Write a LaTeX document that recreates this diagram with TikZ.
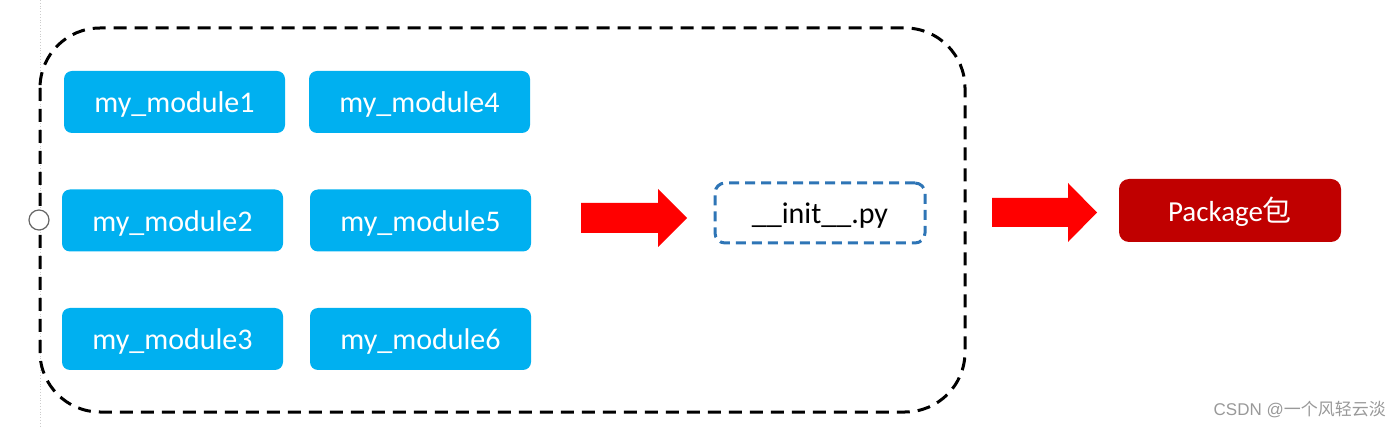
\documentclass[tikz,border=0pt]{standalone}
\usepackage{fontspec}
\setmainfont{Carlito}
\newfontfamily\cjk{Noto Sans CJK SC}
\newfontfamily\wm{Liberation Sans}
\definecolor{modblue}{HTML}{00B0F0}
\definecolor{initblue}{HTML}{2E75B6}
\definecolor{pkgred}{HTML}{C00000}
\definecolor{arrred}{HTML}{FF0000}
\begin{document}
\begin{tikzpicture}[x=1pt,y=-1pt,
  txt/.style={text height=28pt, text depth=6pt},
  modbox/.style={txt, fill=modblue, rounded corners=8pt, text=white, minimum width=221pt, minimum height=62pt, inner sep=0pt, font=\fontsize{30}{36}\selectfont},
  initbox/.style={txt, draw=initblue, line width=3pt, dash pattern=on 10pt off 6pt, rounded corners=10pt, minimum width=210pt, minimum height=60pt, inner sep=0pt, font=\fontsize{30}{36}\selectfont},
  pkgbox/.style={txt, fill=pkgred, rounded corners=10pt, text=white, minimum width=222pt, minimum height=63pt, inner sep=0pt, font=\fontsize{29}{35}\selectfont},
  blockarrow/.style={fill=arrred, draw=none}
]
\useasboundingbox (0,0) rectangle (1400,427);
% faint guide line and handle
\draw[gray!40, line width=0.8pt, dotted] (40,0) -- (40,427);
\draw[dash pattern=on 13pt off 8pt, line width=3pt, rounded corners=60pt] (40,28) rectangle (965,412);
\node[draw=gray!80!black, fill=white, line width=1.2pt, circle, minimum size=20pt, inner sep=0pt] (handle) at (39,220) {};
% modules
\node[modbox] (m1) at (174.5,102) {my\_module1};
\node[modbox] (m4) at (419.5,102) {my\_module4};
\node[modbox] (m2) at (172.5,220.5) {my\_module2};
\node[modbox] (m5) at (420.5,220.5) {my\_module5};
\node[modbox] (m3) at (172.5,339) {my\_module3};
\node[modbox] (m6) at (420.5,339) {my\_module6};
% init
\node[initbox] (init) at (820,213) {\_\_init\_\_.py};
% package
\node[pkgbox] (pkg) at (1230,210.5) {Package{\cjk 包}};
% block arrows
\fill[blockarrow] (581,203) -- (658,203) -- (658,189) -- (687,218) -- (658,247) -- (658,233) -- (581,233) -- cycle;
\fill[blockarrow] (992,198) -- (1068,198) -- (1068,183) -- (1097,212.5) -- (1068,242) -- (1068,227) -- (992,227) -- cycle;
% watermark
\node[anchor=east, text=gray!80, font=\fontsize{17}{20}\selectfont\wm, inner sep=0pt] (wmk) at (1386,410) {CSDN @{\cjk 一个风轻云淡}};
\end{tikzpicture}
\end{document}
